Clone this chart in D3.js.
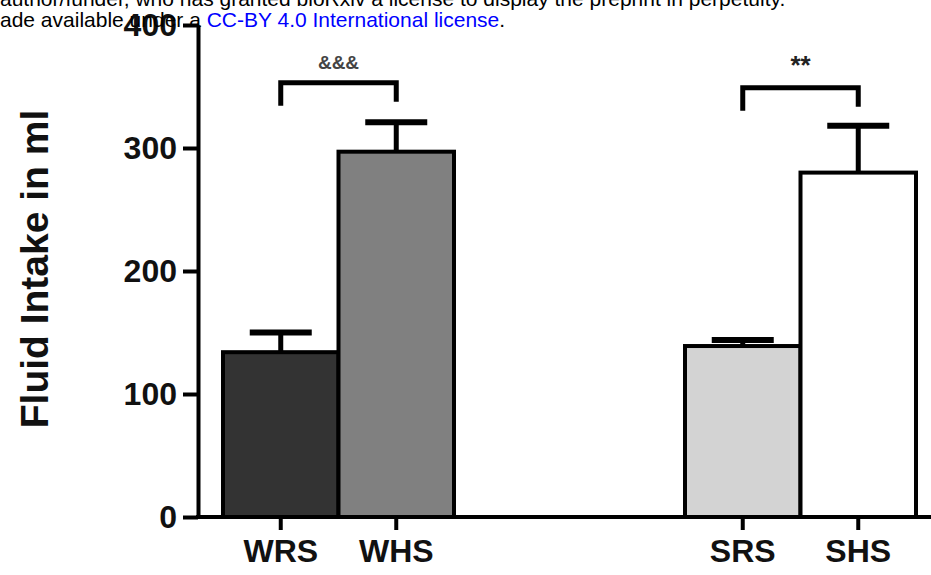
<!DOCTYPE html>
<html>
<head>
<meta charset="utf-8">
<script src="https://cdn.jsdelivr.net/npm/d3@7"></script>
<style>
  body { margin: 0; background: #fff; }
  svg { display: block; font-family: Arial, "Liberation Sans", sans-serif; }
</style>
</head>
<body>
<div id="chart"></div>
<script>
// data
const groups = ['WRS', 'WHS', 'gap1', 'gap2', 'SRS', 'SHS'];
const labels = ['WRS', 'WHS', 'SRS', 'SHS'];
const means = [134, 297, 139, 280];
const errTop = [150, 321, 144, 318];
const fills = ['#333333', '#808080', '#d3d3d3', '#ffffff'];
const yTicks = [0, 100, 200, 300, 400];
const brackets = [
    {from: 'WRS', to: 'WHS', y: 353, label: '&&&'},
    {from: 'SRS', to: 'SHS', y: 349, label: '**'}
];

const w = 931;
const h = 575;

const svg = d3.select('#chart')
    .append('svg')
    .attr('width', w)
    .attr('height', h);

const xScale = d3.scaleBand()
    .domain(groups)
    .range([223, 916])
    .padding(0);

const yScale = d3.scaleLinear()
    .domain([0, 400])
    .range([517, 25]);

const bars = labels.map((l, i) => ({name: l, mean: means[i], err: errTop[i], fill: fills[i]}));

// bars
svg.selectAll('rect.bar')
    .data(bars)
    .enter()
    .append('rect')
    .attr('class', 'bar')
    .attr('x', d => xScale(d.name))
    .attr('y', d => yScale(d.mean))
    .attr('width', xScale.bandwidth())
    .attr('height', d => yScale(0) - yScale(d.mean))
    .attr('fill', d => d.fill)
    .attr('stroke', '#000')
    .attr('stroke-width', 4);

// error bars
const cx = d => xScale(d.name) + xScale.bandwidth() / 2;
svg.selectAll('line.err')
    .data(bars)
    .enter()
    .append('line')
    .attr('x1', cx).attr('x2', cx)
    .attr('y1', d => yScale(d.mean))
    .attr('y2', d => yScale(d.err))
    .attr('stroke', '#000')
    .attr('stroke-width', 5);

svg.selectAll('line.cap')
    .data(bars)
    .enter()
    .append('line')
    .attr('x1', d => cx(d) - 31).attr('x2', d => cx(d) + 31)
    .attr('y1', d => yScale(d.err))
    .attr('y2', d => yScale(d.err))
    .attr('stroke', '#000')
    .attr('stroke-width', 6);

// significance brackets
brackets.forEach(b => {
    const x1 = xScale(b.from) + xScale.bandwidth() / 2;
    const x2 = xScale(b.to) + xScale.bandwidth() / 2;
    const yy = yScale(b.y);
    svg.append('path')
        .attr('d', `M${x1},${yy + 23}V${yy}H${x2}V${yy + 19}`)
        .attr('fill', 'none')
        .attr('stroke', '#000')
        .attr('stroke-width', 5);
    svg.append('text')
        .attr('x', (x1 + x2) / 2)
        .attr('y', yy - 14)
        .attr('text-anchor', 'middle')
        .attr('font-size', b.label === '**' ? 26 : 19)
        .attr('font-weight', 'bold')
        .attr('fill', b.label === '**' ? '#222' : '#444')
        .text(b.label);
});

// axes
const yAxis = d3.axisLeft(yScale)
    .tickValues(yTicks)
    .tickSize(15)
    .tickSizeOuter(0)
    .tickPadding(6);

const gy = svg.append('g')
    .attr('transform', 'translate(198,0)')
    .call(yAxis);
gy.select('.domain').attr('stroke-width', 4);
gy.selectAll('.tick line').attr('stroke-width', 4);
gy.selectAll('.tick text')
    .attr('font-size', 32)
    .attr('font-weight', 'bold')
    .attr('font-family', 'Arial, "Liberation Sans", sans-serif')
    .attr('fill', '#111');

const xAxis = d3.axisBottom(xScale)
    .tickValues(labels)
    .tickSize(13)
    .tickSizeOuter(0)
    .tickPadding(9);

const gx = svg.append('g')
    .attr('transform', 'translate(0,517)')
    .call(xAxis);
gx.select('.domain').attr('d', 'M196,0H931').attr('stroke-width', 4);
gx.selectAll('.tick line').attr('stroke-width', 4);
gx.selectAll('.tick text')
    .attr('font-size', 32)
    .attr('font-weight', 'bold')
    .attr('font-family', 'Arial, "Liberation Sans", sans-serif')
    .attr('fill', '#111');

// y axis title
svg.append('text')
    .attr('transform', 'translate(48,269) rotate(-90)')
    .attr('text-anchor', 'middle')
    .attr('font-size', 39)
    .attr('font-weight', 'bold')
    .attr('fill', '#111')
    .text('Fluid Intake in ml');

// preprint header text
svg.append('text')
    .attr('x', 0).attr('y', 6)
    .attr('font-size', 21)
    .attr('fill', '#000')
    .text('author/funder, who has granted bioRxiv a license to display the preprint in perpetuity.');

const line2 = svg.append('text')
    .attr('x', 0).attr('y', 27)
    .attr('font-size', 21)
    .attr('fill', '#000');
line2.append('tspan').text('ade available under a ');
line2.append('tspan').attr('fill', '#0000ff').text('CC-BY 4.0 International license');
line2.append('tspan').text('.');
</script>
</body>
</html>
